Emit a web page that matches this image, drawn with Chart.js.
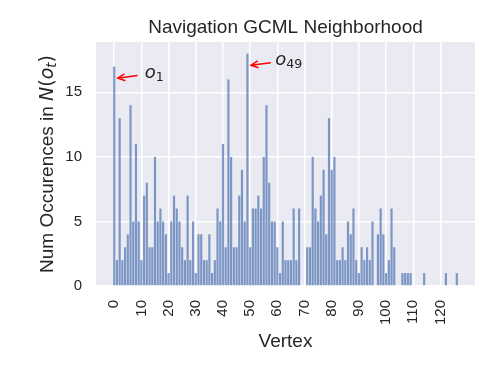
<!DOCTYPE html>
<html>
<head>
<meta charset="utf-8">
<script src="https://cdn.jsdelivr.net/npm/chart.js@4.4.0/dist/chart.umd.min.js"></script>
<style>
  html, body { margin: 0; padding: 0; background: #fff; }
  #wrap { width: 498px; height: 374px; }
</style>
</head>
<body>
<div id="wrap"><canvas id="barChart" width="498" height="374"></canvas></div>
<script>
  // occurrences of each vertex in the GCML neighbourhood (vertex = index)
  const counts = [
    17, 2, 13, 2, 3, 4, 14, 5, 11, 5,
    2, 7, 8, 3, 3, 10, 5, 6, 5, 4,
    1, 5, 7, 6, 5, 3, 2, 7, 2, 5,
    1, 4, 4, 2, 2, 4, 1, 2, 6, 5,
    11, 3, 16, 10, 3, 3, 7, 9, 5, 18,
    3, 6, 6, 7, 6, 10, 14, 8, 5, 5,
    3, 1, 5, 2, 2, 2, 6, 2, 6, 0,
    0, 3, 3, 10, 6, 5, 7, 9, 4, 13,
    9, 10, 2, 2, 3, 2, 5, 4, 6, 2,
    1, 3, 2, 3, 2, 5, 0, 4, 6, 4,
    1, 2, 6, 3, 0, 0, 1, 1, 1, 1,
    0, 0, 0, 0, 1, 0, 0, 0, 0, 0,
    0, 0, 1, 0, 0, 0, 1
  ];
  const vertices = counts.map((_, i) => i);
  const xTicks = [0, 10, 20, 30, 40, 50, 60, 70, 80, 90, 100, 110, 120];
  const yTicks = [0, 5, 10, 15];
  const markedVertices = [0, 49];
  const markedLabels = ['1', '49'];
  const chartTitle = 'Navigation GCML Neighborhood';

  const textColor = '#262626';
  const sansFont = "'Liberation Sans', Arial, sans-serif";
  const mathFont = "'DejaVu Sans', sans-serif";

  function drawRuns(ctx, runs, x, y) {
    let cx = x;
    runs.forEach(r => {
      ctx.font = r.font;
      ctx.fillText(r.text, cx, y + (r.dy || 0));
      cx += ctx.measureText(r.text).width;
    });
  }
  function runsWidth(ctx, runs) {
    let w = 0;
    runs.forEach(r => { ctx.font = r.font; w += ctx.measureText(r.text).width; });
    return w;
  }

  const plotBackground = {
    id: 'plotBackground',
    beforeDraw(chart) {
      const { ctx, chartArea: a } = chart;
      ctx.save();
      ctx.fillStyle = '#EAEAF2';
      ctx.fillRect(a.left, a.top, a.right - a.left, a.bottom - a.top);
      ctx.restore();
    }
  };

  // title centred over the plot area, y-axis title with math italics
  const axisTexts = {
    id: 'axisTexts',
    afterDraw(chart) {
      const { ctx, chartArea: a } = chart;
      ctx.save();
      ctx.fillStyle = textColor;
      ctx.font = '19px ' + sansFont;
      ctx.textAlign = 'center';
      ctx.textBaseline = 'middle';
      ctx.fillText(chartTitle, (a.left + a.right) / 2, a.top - 14);

      const runs = [
        { text: 'Num Occurences in ', font: '19px ' + sansFont },
        { text: 'N', font: 'italic 19px ' + mathFont },
        { text: '(', font: '19px ' + mathFont },
        { text: 'o', font: 'italic 19px ' + mathFont },
        { text: 't', font: 'italic 13.3px ' + mathFont, dy: 3 },
        { text: ')', font: '19px ' + mathFont }
      ];
      ctx.textAlign = 'left';
      ctx.textBaseline = 'alphabetic';
      ctx.translate(53.3, (a.top + a.bottom) / 2);
      ctx.rotate(-Math.PI / 2);
      drawRuns(ctx, runs, -runsWidth(ctx, runs) / 2, 0);
      ctx.restore();
    }
  };

  const markers = {
    id: 'markers',
    afterDatasetsDraw(chart) {
      const { ctx, scales: { x, y } } = chart;
      ctx.save();
      markedVertices.forEach((v, k) => {
        const val = counts[v];
        const tipX = x.getPixelForValue(v + 1.3), tipY = y.getPixelForValue(val - 0.9);
        const tailX = x.getPixelForValue(v + 8.6), tailY = y.getPixelForValue(val - 0.7);
        ctx.strokeStyle = 'red';
        ctx.lineWidth = 1.5;
        ctx.beginPath();
        ctx.moveTo(tailX, tailY);
        ctx.lineTo(tipX, tipY);
        const ang = Math.atan2(tipY - tailY, tipX - tailX);
        const len = 8, spread = 0.45;
        ctx.moveTo(tipX - len * Math.cos(ang - spread), tipY - len * Math.sin(ang - spread));
        ctx.lineTo(tipX, tipY);
        ctx.lineTo(tipX - len * Math.cos(ang + spread), tipY - len * Math.sin(ang + spread));
        ctx.stroke();

        ctx.fillStyle = textColor;
        ctx.textBaseline = 'alphabetic';
        const tx = x.getPixelForValue(v + (k === 0 ? 11.2 : 10.2));
        const ty = y.getPixelForValue(val - 0.9);
        drawRuns(ctx, [
          { text: 'o', font: 'italic 18px ' + mathFont },
          { text: markedLabels[k], font: '12.6px ' + mathFont, dy: 3 }
        ], tx, ty);
      });
      ctx.restore();
    }
  };

  const ctx = document.getElementById('barChart').getContext('2d');
  const chart = new Chart(ctx, {
    type: 'bar',
    data: {
      datasets: [{
        data: vertices.map(i => ({ x: i, y: counts[i] })),
        backgroundColor: 'rgba(76, 114, 176, 0.7)',
        borderWidth: 0,
        barPercentage: 0.8,
        categoryPercentage: 1
      }]
    },
    options: {
      responsive: false,
      animation: false,
      layout: { padding: { left: 0, right: 23, top: 42, bottom: 0 } },
      scales: {
        x: {
          type: 'linear',
          min: -6.7,
          max: 132.7,
          offset: false,
          afterBuildTicks: s => { s.ticks = xTicks.map(v => ({ value: v })); },
          afterFit: s => { s.height = 88; },
          grid: { color: '#ffffff', lineWidth: 1.5, offset: false, drawTicks: false },
          border: { display: false },
          ticks: {
            color: textColor,
            font: { family: sansFont, size: 15 },
            minRotation: 90,
            maxRotation: 90,
            autoSkip: false,
            padding: 14
          },
          title: {
            display: true,
            text: 'Vertex',
            color: textColor,
            font: { family: sansFont, size: 19 },
            padding: { top: 0, bottom: 21 }
          }
        },
        y: {
          min: 0,
          max: 18.9,
          afterBuildTicks: s => { s.ticks = yTicks.map(v => ({ value: v })); },
          afterFit: s => { s.width = 96; },
          grid: { color: '#ffffff', lineWidth: 1.5, drawTicks: false },
          border: { display: false },
          ticks: {
            color: textColor,
            font: { family: sansFont, size: 15 },
            padding: 14
          }
        }
      },
      plugins: {
        legend: { display: false },
        tooltip: { enabled: false },
        title: { display: false }
      }
    },
    plugins: [plotBackground, axisTexts, markers]
  });
</script>
</body>
</html>
